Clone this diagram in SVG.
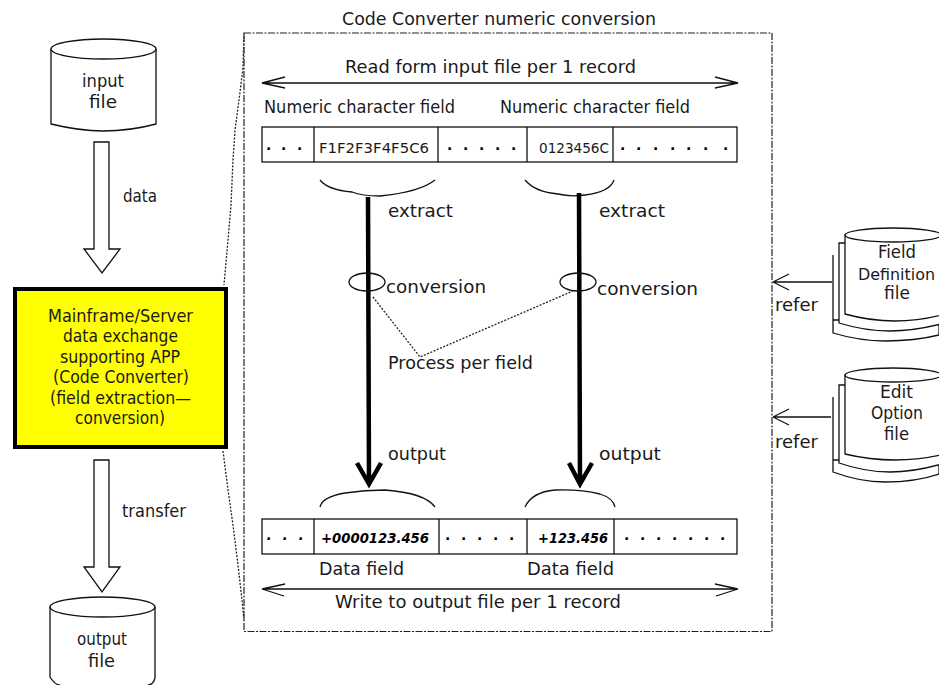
<svg xmlns="http://www.w3.org/2000/svg" width="939" height="685" viewBox="0 0 939 685">
<style>
text{font-family:"DejaVu Sans",sans-serif;font-size:17.500px;fill:#1a1a1a}
.s{font-size:14px}
.b{font-size:14px;font-weight:bold;font-style:italic;fill:#000}
.d{font-size:14px;font-weight:bold;fill:#000}
.n{font-size:16px}
.l{fill:none;stroke:#111;stroke-width:1.3}
.w{fill:#fff;stroke:#111;stroke-width:1.3}
.t{fill:none;stroke:#000;stroke-width:4.500}
.f{fill:none;stroke:#222;stroke-width:1.300;stroke-dasharray:2 1.500}
.dd{fill:none;stroke:#222;stroke-width:1.200;stroke-dasharray:7 1.500 2 1.500}
</style>
<rect width="939" height="685" fill="#fff"/>
<g id="connectors">
<path id="data-arrow" class="w" d="M94 142H109V249H120L102 273L84 249H94Z"/>
<path id="transfer-arrow" class="w" d="M94 460H109V567H120L102 592L84 567H94Z"/>
<path class="f" d="M244 33L243 68L239 100L235 130L233 160L231 205L228 240L224 285"/>
<path class="f" d="M223 451L228 490L233 525L238 565L242 600L244 620"/>
<path class="l" d="M262 83H738M262 83L285 77M262 83L285 88M738 83L715 77M738 83L715 88"/>
<path class="l" d="M320 180Q328 190 352 192Q362 196 380 196Q420 192 435 180"/>
<path class="l" d="M525 180Q535 192 558 194Q570 197 585 195Q610 192 614 180"/>
<path class="t" d="M368 197L369 483M357 463L369 484L381 463"/>
<path class="t" d="M579 193L580 483M569 463L580 484L592 463"/>
<ellipse class="l" cx="367" cy="282" rx="18" ry="9"/>
<ellipse class="l" cx="578" cy="282" rx="18" ry="9"/>
<path class="f" d="M373 297L420 357L573 291"/>
<path class="l" d="M320 507Q322 497 345 493Q365 490 385 490Q425 493 435 507"/>
<path class="l" d="M525 507Q532 492 555 490Q580 489 600 494Q613 498 615 507"/>
<path class="l" d="M262 589H738M262 589L285 584M262 589L284 596M738 589L715 584M738 589L716 596"/>
<path class="l" d="M773 282H832M773 282L789 274M773 282L789 290"/>
<path class="l" d="M773 417H831M773 417L789 409M773 417L789 425"/>
</g>
<g id="input-file">
<path class="w" d="M51 49V124Q80 131 103 131Q130 131 156 124V49"/>
<ellipse class="w" cx="103.500" cy="49" rx="52.500" ry="10"/>
<text x="82" y="87" textLength="42" lengthAdjust="spacingAndGlyphs">input</text>
<text x="89" y="108" textLength="28" lengthAdjust="spacingAndGlyphs">file</text>
</g>
<text id="data-label" x="123" y="202" textLength="34" lengthAdjust="spacingAndGlyphs">data</text>
<g id="app-box">
<rect x="15" y="289" width="211" height="158" fill="#ff0" stroke="#000" stroke-width="4"/>
<text x="48" y="322" textLength="145" lengthAdjust="spacingAndGlyphs">Mainframe/Server</text>
<text x="63" y="342" textLength="115" lengthAdjust="spacingAndGlyphs">data exchange</text>
<text x="60" y="363" textLength="120" lengthAdjust="spacingAndGlyphs">supporting APP</text>
<text x="53" y="383" textLength="136" lengthAdjust="spacingAndGlyphs">(Code Converter)</text>
<text x="50" y="404" textLength="141" lengthAdjust="spacingAndGlyphs">(field extraction—</text>
<text x="75" y="424" textLength="90" lengthAdjust="spacingAndGlyphs">conversion)</text>
</g>
<text id="transfer-label" x="122" y="517" textLength="64" lengthAdjust="spacingAndGlyphs">transfer</text>
<g id="output-file">
<path class="w" d="M50 607V677Q55 685 60 685M155 607V678Q153 685 148 685"/>
<ellipse class="w" cx="102.500" cy="607" rx="52.500" ry="10"/>
<text x="77" y="645" textLength="50" lengthAdjust="spacingAndGlyphs">output</text>
<text x="88" y="667" textLength="27" lengthAdjust="spacingAndGlyphs">file</text>
</g>
<g id="conversion-panel">
<rect class="dd" x="244" y="33" width="528" height="598.500"/>
<text x="342" y="25" textLength="314" lengthAdjust="spacingAndGlyphs">Code Converter numeric conversion</text>
<text x="345" y="73" textLength="291" lengthAdjust="spacingAndGlyphs">Read form input file per 1 record</text>
<text x="264" y="113" textLength="191" lengthAdjust="spacingAndGlyphs">Numeric character field</text>
<text x="500" y="113" textLength="190" lengthAdjust="spacingAndGlyphs">Numeric character field</text>
<text x="388" y="217" textLength="65" lengthAdjust="spacingAndGlyphs">extract</text>
<text x="599" y="217" textLength="66" lengthAdjust="spacingAndGlyphs">extract</text>
<text x="386" y="293" textLength="100" lengthAdjust="spacingAndGlyphs">conversion</text>
<text x="597" y="295" textLength="101" lengthAdjust="spacingAndGlyphs">conversion</text>
<text x="388" y="369" textLength="145" lengthAdjust="spacingAndGlyphs">Process per field</text>
<text x="388" y="460" textLength="58" lengthAdjust="spacingAndGlyphs">output</text>
<text x="599" y="460" textLength="62" lengthAdjust="spacingAndGlyphs">output</text>
<text x="319" y="575" textLength="85" lengthAdjust="spacingAndGlyphs">Data field</text>
<text x="527" y="575" textLength="87" lengthAdjust="spacingAndGlyphs">Data field</text>
<text x="335" y="608" textLength="286" lengthAdjust="spacingAndGlyphs">Write to output file per 1 record</text>
</g>
<g id="input-record">
<rect class="l" x="262" y="127" width="475" height="35"/>
<path class="l" d="M314 127V162M438 127V162M527 127V162M613 127V162"/>
<text class="d" x="266 281 297" y="150">...</text>
<text class="s" x="319" y="153" textLength="110" lengthAdjust="spacingAndGlyphs">F1F2F3F4F5C6</text>
<text class="d" x="447 463 479 495 511" y="150">.....</text>
<text class="s" x="539" y="153" textLength="70" lengthAdjust="spacingAndGlyphs">0123456C</text>
<text class="d" x="620 636 653 670 686 703 723" y="150">.......</text>
</g>
<g id="output-record">
<rect class="l" x="262" y="519" width="475" height="35"/>
<path class="l" d="M314 519V554M439 519V554M527 519V554M614 519V554"/>
<text class="d" x="266 282 298" y="540">...</text>
<text class="b" x="321" y="543" textLength="108" lengthAdjust="spacingAndGlyphs">+0000123.456</text>
<text class="d" x="445 461 477 493 509" y="540">.....</text>
<text class="b" x="538" y="543" textLength="70" lengthAdjust="spacingAndGlyphs">+123.456</text>
<text class="d" x="624 640 656 672 688 704 720" y="540">.......</text>
</g>
<g id="field-definition-file">
<path class="w" d="M833 255V333Q860 341 885 341Q915 341 939 335V320H833"/>
<path class="w" d="M839 243V323Q865 331 890 331Q915 331 945 323V243Z"/>
<path class="w" d="M845 235V314Q870 321 895 321Q920 321 945 314V235Z"/>
<ellipse class="w" cx="893" cy="235" rx="48" ry="7"/>
<text x="878" y="258" textLength="38" lengthAdjust="spacingAndGlyphs">Field</text>
<text class="n" x="858" y="280" textLength="77" lengthAdjust="spacingAndGlyphs">Definition</text>
<text x="884" y="299" textLength="26" lengthAdjust="spacingAndGlyphs">file</text>
</g>
<text id="refer-label-1" x="775" y="311" textLength="43" lengthAdjust="spacingAndGlyphs">refer</text>
<g id="edit-option-file">
<path class="w" d="M833 397V472Q860 482 885 482Q915 482 939 474V460H833"/>
<path class="w" d="M839 385V463Q865 472 890 472Q915 472 945 463V385Z"/>
<path class="w" d="M845 375V454Q870 460 895 460Q920 460 945 454V375Z"/>
<ellipse class="w" cx="893" cy="375" rx="48" ry="7"/>
<text x="880" y="398" textLength="33" lengthAdjust="spacingAndGlyphs">Edit</text>
<text x="871" y="419" textLength="52" lengthAdjust="spacingAndGlyphs">Option</text>
<text x="884" y="440" textLength="25" lengthAdjust="spacingAndGlyphs">file</text>
</g>
<text id="refer-label-2" x="775" y="448" textLength="43" lengthAdjust="spacingAndGlyphs">refer</text>
</svg>
